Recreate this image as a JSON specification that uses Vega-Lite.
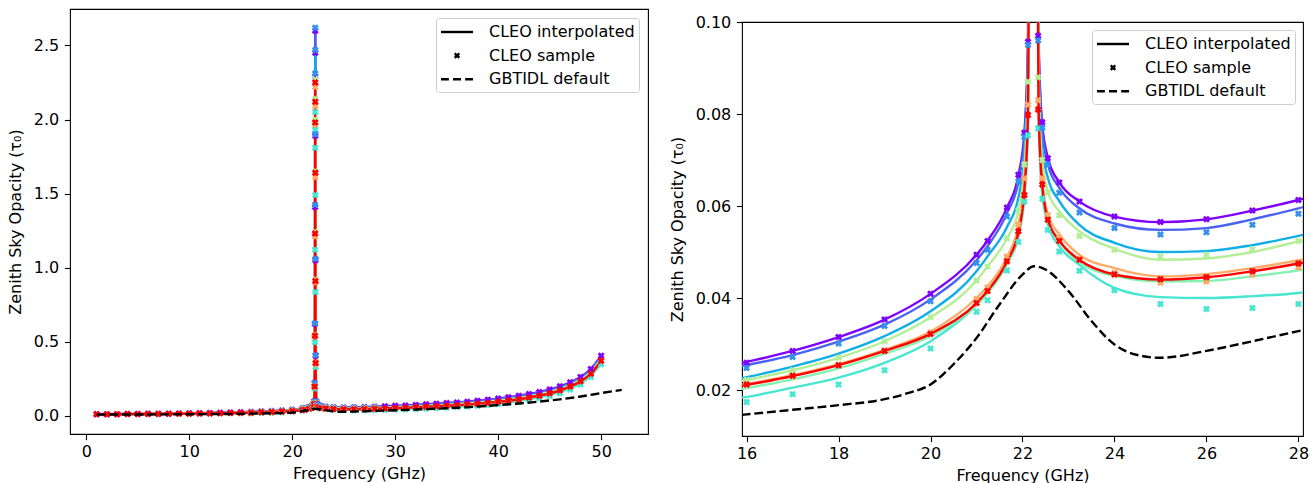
{
"$schema": "https://vega.github.io/schema/vega-lite/v6.json",
"background": "white",
"padding": {"left": 6, "top": 8, "right": 8, "bottom": 0},
"spacing": 19,
"datasets": {
"lines": [
{"f":1,"p":0.0102,"b":0.0102,"c":0.0102,"t":0.0102,"m":0.0102,"g":0.0102,"o":0.0102,"r":0.0102},
{"f":2,"p":0.0106,"b":0.0106,"c":0.0105,"t":0.0105,"m":0.0105,"g":0.0105,"o":0.0105,"r":0.0105},
{"f":4,"p":0.0116,"b":0.0116,"c":0.0114,"t":0.0111,"m":0.0112,"g":0.0114,"o":0.0113,"r":0.0113},
{"f":6,"p":0.0129,"b":0.0128,"c":0.0124,"t":0.0118,"m":0.0121,"g":0.0124,"o":0.0122,"r":0.0122},
{"f":8,"p":0.0144,"b":0.0142,"c":0.0136,"t":0.0125,"m":0.013,"g":0.0134,"o":0.0132,"r":0.0132},
{"f":10,"p":0.0163,"b":0.016,"c":0.015,"t":0.0133,"m":0.0141,"g":0.0148,"o":0.0144,"r":0.0143},
{"f":12,"p":0.0187,"b":0.0183,"c":0.0168,"t":0.0144,"m":0.0155,"g":0.0165,"o":0.016,"r":0.0159},
{"f":14,"p":0.0219,"b":0.0214,"c":0.0194,"t":0.0161,"m":0.0175,"g":0.0189,"o":0.0182,"r":0.0181},
{"f":15,"p":0.0239,"b":0.0233,"c":0.021,"t":0.0172,"m":0.0189,"g":0.0205,"o":0.0197,"r":0.0195},
{"f":16,"p":0.0261,"b":0.0254,"c":0.0228,"t":0.0185,"m":0.0204,"g":0.0222,"o":0.0213,"r":0.0211},
{"f":17,"p":0.0285,"b":0.0276,"c":0.0251,"t":0.0205,"m":0.0223,"g":0.0243,"o":0.0232,"r":0.023},
{"f":18,"p":0.0315,"b":0.0305,"c":0.0279,"t":0.0227,"m":0.0247,"g":0.027,"o":0.0256,"r":0.0254},
{"f":19,"p":0.0353,"b":0.0342,"c":0.0317,"t":0.0259,"m":0.0279,"g":0.0306,"o":0.0287,"r":0.0285},
{"f":20,"p":0.0409,"b":0.0397,"c":0.0371,"t":0.0306,"m":0.0317,"g":0.0358,"o":0.0327,"r":0.0322},
{"f":21,"p":0.0494,"b":0.0482,"c":0.0458,"t":0.0385,"m":0.0385,"g":0.0438,"o":0.04,"r":0.0389},
{"f":21.235,"p":0.0524,"b":0.0512,"c":0.049,"t":0.0412,"m":0.041,"g":0.0468,"o":0.0425,"r":0.0415},
{"f":21.665,"p":0.0597,"b":0.0585,"c":0.0555,"t":0.0475,"m":0.0475,"g":0.053,"o":0.049,"r":0.048},
{"f":21.915,"p":0.0668,"b":0.0655,"c":0.062,"t":0.0535,"m":0.054,"g":0.059,"o":0.056,"r":0.0545},
{"f":22.045,"p":0.0765,"b":0.0752,"c":0.072,"t":0.0625,"m":0.0635,"g":0.069,"o":0.066,"r":0.064},
{"f":22.12,"p":0.096,"b":0.0945,"c":0.091,"t":0.078,"m":0.079,"g":0.087,"o":0.082,"r":0.08},
{"f":22.165,"p":0.178,"b":0.179,"c":0.17,"t":0.145,"m":0.148,"g":0.16,"o":0.157,"r":0.155},
{"f":22.195,"p":0.405,"b":0.408,"c":0.384,"t":0.325,"m":0.33,"g":0.36,"o":0.35,"r":0.35},
{"f":22.215,"p":1.05,"b":1.06,"c":0.993,"t":0.835,"m":0.85,"g":0.92,"o":0.9,"r":0.91},
{"f":22.225,"p":1.89,"b":1.9,"c":1.78,"t":1.49,"m":1.53,"g":1.65,"o":1.61,"r":1.63},
{"f":22.235,"p":2.6,"b":2.62,"c":2.45,"t":2.05,"m":2.1,"g":2.27,"o":2.22,"r":2.25},
{"f":22.245,"p":1.89,"b":1.9,"c":1.78,"t":1.49,"m":1.53,"g":1.65,"o":1.61,"r":1.63},
{"f":22.255,"p":1.05,"b":1.06,"c":0.993,"t":0.835,"m":0.85,"g":0.92,"o":0.9,"r":0.91},
{"f":22.275,"p":0.405,"b":0.408,"c":0.384,"t":0.325,"m":0.33,"g":0.36,"o":0.35,"r":0.35},
{"f":22.305,"p":0.18,"b":0.18,"c":0.171,"t":0.146,"m":0.149,"g":0.161,"o":0.158,"r":0.156},
{"f":22.35,"p":0.096,"b":0.095,"c":0.092,"t":0.079,"m":0.08,"g":0.088,"o":0.083,"r":0.081},
{"f":22.425,"p":0.0782,"b":0.077,"c":0.073,"t":0.063,"m":0.064,"g":0.07,"o":0.066,"r":0.065},
{"f":22.555,"p":0.0704,"b":0.069,"c":0.066,"t":0.056,"m":0.057,"g":0.063,"o":0.058,"r":0.057},
{"f":22.805,"p":0.0651,"b":0.0639,"c":0.061,"t":0.0512,"m":0.0523,"g":0.0588,"o":0.0538,"r":0.0524},
{"f":23.235,"p":0.061,"b":0.0595,"c":0.0559,"t":0.0472,"m":0.0478,"g":0.0545,"o":0.0494,"r":0.0483},
{"f":24,"p":0.0577,"b":0.0562,"c":0.052,"t":0.0422,"m":0.0448,"g":0.0507,"o":0.0465,"r":0.0451},
{"f":25,"p":0.0565,"b":0.0548,"c":0.05,"t":0.0402,"m":0.0436,"g":0.0483,"o":0.0447,"r":0.044},
{"f":26,"p":0.0571,"b":0.0552,"c":0.0502,"t":0.04,"m":0.0437,"g":0.0486,"o":0.0452,"r":0.0445},
{"f":27,"p":0.059,"b":0.0571,"c":0.0515,"t":0.0404,"m":0.0447,"g":0.05,"o":0.0465,"r":0.0458},
{"f":28,"p":0.0613,"b":0.0595,"c":0.0535,"t":0.0411,"m":0.046,"g":0.0523,"o":0.0482,"r":0.0475},
{"f":30,"p":0.067,"b":0.0651,"c":0.0586,"t":0.0452,"m":0.0505,"g":0.0573,"o":0.0529,"r":0.0521},
{"f":32,"p":0.073,"b":0.0709,"c":0.0639,"t":0.0494,"m":0.0551,"g":0.0625,"o":0.0577,"r":0.0569},
{"f":34,"p":0.081,"b":0.0787,"c":0.0712,"t":0.0555,"m":0.0617,"g":0.0697,"o":0.0645,"r":0.0636},
{"f":36,"p":0.09,"b":0.0876,"c":0.0794,"t":0.0625,"m":0.0692,"g":0.0778,"o":0.0722,"r":0.0712},
{"f":38,"p":0.101,"b":0.0984,"c":0.0895,"t":0.0713,"m":0.0785,"g":0.0878,"o":0.0817,"r":0.0807},
{"f":40,"p":0.116,"b":0.1132,"c":0.1037,"t":0.0841,"m":0.0918,"g":0.1018,"o":0.0953,"r":0.0942},
{"f":42,"p":0.135,"b":0.1319,"c":0.1217,"t":0.1007,"m":0.109,"g":0.1197,"o":0.1127,"r":0.1115},
{"f":44,"p":0.161,"b":0.1577,"c":0.1467,"t":0.124,"m":0.133,"g":0.1445,"o":0.137,"r":0.1357},
{"f":45,"p":0.178,"b":0.1746,"c":0.1632,"t":0.1396,"m":0.1489,"g":0.1609,"o":0.1531,"r":0.1518},
{"f":46,"p":0.199,"b":0.1954,"c":0.1836,"t":0.159,"m":0.1687,"g":0.1812,"o":0.1731,"r":0.1717},
{"f":47,"p":0.226,"b":0.2223,"c":0.2099,"t":0.1844,"m":0.1945,"g":0.2075,"o":0.199,"r":0.1976},
{"f":48,"p":0.262,"b":0.2581,"c":0.2452,"t":0.2186,"m":0.2291,"g":0.2426,"o":0.2338,"r":0.2323},
{"f":49,"p":0.315,"b":0.3109,"c":0.2974,"t":0.2693,"m":0.2804,"g":0.2947,"o":0.2854,"r":0.2838},
{"f":50,"p":0.405,"b":0.4007,"c":0.3863,"t":0.3565,"m":0.3683,"g":0.3834,"o":0.3736,"r":0.3719}
],
"samp": [
{"f":1,"p":0.0102,"r":0.0102},
{"f":2,"p":0.0106,"r":0.0105},
{"f":3,"p":0.0111,"r":0.0109},
{"f":4,"p":0.0116,"r":0.0113},
{"f":5,"p":0.0122,"r":0.0117},
{"f":6,"p":0.0129,"r":0.0122},
{"f":7,"p":0.0136,"r":0.0127},
{"f":8,"p":0.0144,"r":0.0132},
{"f":9,"p":0.0153,"r":0.0137},
{"f":10,"p":0.0163,"r":0.0143},
{"f":11,"p":0.0174,"r":0.015},
{"f":12,"p":0.0187,"r":0.0159},
{"f":13,"p":0.0202,"r":0.0169},
{"f":14,"p":0.0219,"r":0.0181},
{"f":15,"p":0.0239,"r":0.0195},
{"f":16,"p":0.0259,"bs":0.0248,"t":0.0174,"g":0.0222,"o":0.0212,"r":0.0212},
{"f":17,"p":0.0285,"bs":0.0272,"t":0.0191,"g":0.0243,"o":0.0231,"r":0.0231},
{"f":18,"p":0.0315,"bs":0.0301,"t":0.0212,"g":0.027,"o":0.0255,"r":0.0254},
{"f":19,"p":0.0353,"bs":0.0339,"t":0.0243,"g":0.0306,"o":0.0286,"r":0.0285},
{"f":20,"p":0.0409,"bs":0.0393,"t":0.029,"g":0.0358,"o":0.0325,"r":0.0322},
{"f":21,"p":0.0494,"bs":0.0476,"t":0.037,"g":0.0438,"o":0.0398,"r":0.0389},
{"f":21.24,"p":0.0524,"bs":0.0505,"t":0.0395,"g":0.0468,"o":0.0423,"r":0.0415},
{"f":21.66,"p":0.0597,"bs":0.0577,"t":0.046,"g":0.053,"o":0.049,"r":0.048},
{"f":21.91,"p":0.0668,"bs":0.0653,"t":0.0522,"g":0.059,"o":0.056,"r":0.0545},
{"f":22.04,"p":0.0759,"bs":0.075,"t":0.061,"g":0.069,"o":0.066,"r":0.0624},
{"f":22.12,"p":0.0957,"bs":0.095,"t":0.0754,"g":0.087,"o":0.082,"r":0.0798},
{"f":22.175,"p":0.221,"bs":0.222,"t":0.184,"g":0.199,"o":0.196,"r":0.198},
{"f":22.205,"p":0.62,"bs":0.624,"t":0.497,"g":0.546,"o":0.535,"r":0.54},
{"f":22.22,"p":1.41,"bs":1.425,"t":1.12,"g":1.24,"o":1.21,"r":1.23},
{"f":22.229,"p":2.29,"bs":2.31,"t":1.81,"g":2.0,"o":1.96,"r":1.98},
{"f":22.235,"p":2.6,"bs":2.62,"t":2.05,"g":2.27,"o":2.22,"r":2.25},
{"f":22.239,"p":2.45,"bs":2.47,"t":1.93,"g":2.14,"o":2.09,"r":2.12},
{"f":22.245,"p":1.89,"bs":1.9,"t":1.49,"g":1.65,"o":1.61,"r":1.64},
{"f":22.255,"p":1.05,"bs":1.06,"t":0.836,"g":0.92,"o":0.9,"r":0.91},
{"f":22.275,"p":0.405,"bs":0.408,"t":0.329,"g":0.36,"o":0.35,"r":0.356},
{"f":22.34,"p":0.097,"bs":0.096,"t":0.0769,"g":0.088,"o":0.083,"r":0.081},
{"f":22.43,"p":0.0782,"bs":0.077,"t":0.0616,"g":0.07,"o":0.066,"r":0.0647},
{"f":22.55,"p":0.0704,"bs":0.069,"t":0.0548,"g":0.063,"o":0.058,"r":0.057},
{"f":22.8,"p":0.0651,"bs":0.0629,"t":0.0501,"g":0.058,"o":0.053,"r":0.0524},
{"f":23.24,"p":0.061,"bs":0.0586,"t":0.0459,"g":0.0535,"o":0.0485,"r":0.0483},
{"f":24,"p":0.0577,"bs":0.0552,"t":0.0417,"g":0.0505,"o":0.0455,"r":0.0451},
{"f":25,"p":0.0565,"bs":0.0538,"t":0.0387,"g":0.049,"o":0.0433,"r":0.0441},
{"f":26,"p":0.0571,"bs":0.0543,"t":0.0376,"g":0.0494,"o":0.0436,"r":0.0445},
{"f":27,"p":0.059,"bs":0.0559,"t":0.0378,"g":0.0506,"o":0.0451,"r":0.0458},
{"f":28,"p":0.0613,"bs":0.0583,"t":0.0387,"g":0.0524,"o":0.0467,"r":0.0475},
{"f":29,"p":0.064,"t":0.0405,"r":0.0497},
{"f":30,"p":0.067,"t":0.0425,"r":0.0521},
{"f":31,"p":0.07,"t":0.0445,"r":0.0545},
{"f":32,"p":0.073,"t":0.0465,"r":0.0569},
{"f":33,"p":0.077,"t":0.0493,"r":0.0602},
{"f":34,"p":0.081,"t":0.0522,"r":0.0636},
{"f":35,"p":0.0855,"t":0.0555,"r":0.0674},
{"f":36,"p":0.09,"t":0.0588,"r":0.0712},
{"f":37,"p":0.095,"t":0.063,"r":0.076},
{"f":38,"p":0.101,"t":0.0672,"r":0.0807},
{"f":39,"p":0.108,"t":0.073,"r":0.087},
{"f":40,"p":0.116,"t":0.0795,"r":0.0942},
{"f":41,"p":0.125,"t":0.0872,"r":0.1025},
{"f":42,"p":0.135,"t":0.0955,"r":0.1115},
{"f":43,"p":0.147,"t":0.1065,"r":0.123},
{"f":44,"p":0.161,"t":0.118,"r":0.1357},
{"f":45,"p":0.178,"t":0.133,"r":0.1518},
{"f":46,"p":0.199,"t":0.152,"r":0.1717},
{"f":47,"p":0.226,"t":0.177,"r":0.1976},
{"f":48,"p":0.262,"t":0.211,"r":0.2323},
{"f":49,"p":0.315,"t":0.261,"r":0.2838},
{"f":50,"p":0.405,"t":0.348,"r":0.3719}
],
"gbt": [
{"f":1,"v":0.008},{"f":4,"v":0.0085},{"f":8,"v":0.0095},{"f":12,"v":0.011},{"f":14,"v":0.0125},
{"f":16,"v":0.0147},{"f":17,"v":0.0157},{"f":18,"v":0.0167},{"f":19,"v":0.018},{"f":19.5,"v":0.0193},
{"f":20,"v":0.0212},{"f":20.5,"v":0.0256},{"f":21,"v":0.0313},{"f":21.5,"v":0.0386},{"f":22,"v":0.0451},
{"f":22.25,"v":0.0469},{"f":22.5,"v":0.0462},{"f":23,"v":0.0415},{"f":23.5,"v":0.035},{"f":24,"v":0.0299},
{"f":24.5,"v":0.0276},{"f":25,"v":0.027},{"f":26,"v":0.0285},{"f":27,"v":0.0306},{"f":28,"v":0.0328},
{"f":30,"v":0.037},{"f":32,"v":0.042},{"f":35,"v":0.051},{"f":38,"v":0.062},{"f":40,"v":0.072},
{"f":42,"v":0.083},{"f":44,"v":0.096},{"f":46,"v":0.111},{"f":48,"v":0.13},{"f":50,"v":0.153},{"f":52,"v":0.175}
],
"leg": [{"k":"CLEO interpolated"},{"k":"CLEO sample"},{"k":"GBTIDL default"}]
},
"resolve": {"scale": {"shape": "independent", "color": "independent"}, "legend": {"shape": "independent"}},
"hconcat": [
{
"width": 578, "height": 425,
"layer": [
{"data": {"name": "lines"},
 "transform": [{"fold": ["p","b","c","t","m","g","o","r"], "as": ["s","v"]}, {"filter": "isValid(datum.v)"}],
 "mark": {"type": "line", "strokeWidth": 2.4, "clip": true, "interpolate": "monotone"},
 "encoding": {
  "x": {"field": "f", "type": "quantitative", "title": "Frequency (GHz)", "scale": {"domain": [-1.58, 54.55], "nice": false, "zero": false}, "axis": {"values": [0,10,20,30,40,50], "format": "d"}},
  "y": {"field": "v", "type": "quantitative", "title": "Zenith Sky Opacity (τ₀)", "scale": {"domain": [-0.123, 2.746], "nice": false, "zero": false}, "axis": {"values": [0,0.5,1,1.5,2,2.5], "format": ".1f"}},
  "color": {"field": "s", "type": "nominal", "legend": null, "scale": {"domain": ["p","b","c","t","m","g","o","r","bs"], "range": ["#8000ff","#4a62f2","#10aee8","#46e6d0","#86f0b0","#b4ee96","#ffaa66","#ff0000","#3490ec"]}}
 }},
{"data": {"name": "samp"},
 "transform": [{"fold": ["p","bs","t","g","o","r"], "as": ["s","v"]}, {"filter": "isValid(datum.v)"}],
 "mark": {"type": "point", "shape": "cross", "angle": 45, "filled": true, "size": 50, "opacity": 1, "clip": true},
 "encoding": {
  "x": {"field": "f", "type": "quantitative", "title": "Frequency (GHz)"},
  "y": {"field": "v", "type": "quantitative", "title": "Zenith Sky Opacity (τ₀)"},
  "color": {"field": "s", "type": "nominal", "legend": null}
 }},
{"data": {"name": "gbt"},
 "mark": {"type": "line", "color": "black", "strokeWidth": 2.4, "strokeDash": [8.9, 3.8], "clip": true, "interpolate": "monotone"},
 "encoding": {
  "x": {"field": "f", "type": "quantitative", "title": "Frequency (GHz)"},
  "y": {"field": "v", "type": "quantitative", "title": "Zenith Sky Opacity (τ₀)"}
 }},
{"data": {"name": "leg"},
 "transform": [{"filter": "false"}],
 "mark": {"type": "point", "filled": false, "color": "black", "opacity": 1, "strokeWidth": 2.4},
 "encoding": {
  "shape": {"field": "k", "type": "nominal", "scale": {"domain": ["CLEO interpolated","CLEO sample","GBTIDL default"], "range": ["M-1.88,0H1.88", "M-0.27,-0.27L0.27,0.27M-0.27,0.27L0.27,-0.27", "M-1.88,0H-0.96M-0.47,0H0.47M0.96,0H1.88"]},
   "legend": {"title": null, "orient": "top-right", "offset": 9, "padding": 4, "strokeColor": "#cccccc", "fillColor": "white", "cornerRadius": 3, "symbolSize": 289, "symbolOffset": 7, "labelOffset": 22, "labelFontSize": 16, "labelFont": "DejaVu Sans", "labelColor": "black", "rowPadding": 5.6, "symbolStrokeColor": "black", "symbolStrokeWidth": 2.4, "symbolOpacity": 1}}
 }}
]
},
{
"spacing": 0,
"resolve": {"scale": {"shape": "independent", "color": "independent"}, "legend": {"shape": "independent"}},
"vconcat": [
{"width": 561, "height": 4, "data": {"values": []}, "mark": {"type": "point", "opacity": 0}, "view": {"stroke": null}},
{
"width": 561, "height": 414,
"layer": [
{"data": {"name": "lines"},
 "transform": [{"fold": ["p","b","c","t","m","g","o","r"], "as": ["s","v"]}, {"filter": "isValid(datum.v)"}],
 "mark": {"type": "line", "strokeWidth": 2.4, "clip": true, "interpolate": "monotone"},
 "encoding": {
  "x": {"field": "f", "type": "quantitative", "title": "Frequency (GHz)", "scale": {"domain": [15.9, 28.1], "nice": false, "zero": false}, "axis": {"values": [16,18,20,22,24,26,28], "format": "d"}},
  "y": {"field": "v", "type": "quantitative", "title": "Zenith Sky Opacity (τ₀)", "scale": {"domain": [0.01, 0.1], "nice": false, "zero": false}, "axis": {"values": [0.02,0.04,0.06,0.08,0.1], "format": ".2f"}},
  "color": {"field": "s", "type": "nominal", "legend": null, "scale": {"domain": ["p","b","c","t","m","g","o","r","bs"], "range": ["#8000ff","#4a62f2","#10aee8","#46e6d0","#86f0b0","#b4ee96","#ffaa66","#ff0000","#3490ec"]}}
 }},
{"data": {"name": "samp"},
 "transform": [{"fold": ["p","bs","t","g","o","r"], "as": ["s","v"]}, {"filter": "isValid(datum.v)"}],
 "mark": {"type": "point", "shape": "cross", "angle": 45, "filled": true, "size": 50, "opacity": 1, "clip": true},
 "encoding": {
  "x": {"field": "f", "type": "quantitative", "title": "Frequency (GHz)"},
  "y": {"field": "v", "type": "quantitative", "title": "Zenith Sky Opacity (τ₀)"},
  "color": {"field": "s", "type": "nominal", "legend": null}
 }},
{"data": {"name": "gbt"},
 "mark": {"type": "line", "color": "black", "strokeWidth": 2.4, "strokeDash": [8.9, 3.8], "clip": true, "interpolate": "monotone"},
 "encoding": {
  "x": {"field": "f", "type": "quantitative", "title": "Frequency (GHz)"},
  "y": {"field": "v", "type": "quantitative", "title": "Zenith Sky Opacity (τ₀)"}
 }},
{"data": {"name": "leg"},
 "transform": [{"filter": "false"}],
 "mark": {"type": "point", "filled": false, "color": "black", "opacity": 1, "strokeWidth": 2.4},
 "encoding": {
  "shape": {"field": "k", "type": "nominal", "scale": {"domain": ["CLEO interpolated","CLEO sample","GBTIDL default"], "range": ["M-1.88,0H1.88", "M-0.27,-0.27L0.27,0.27M-0.27,0.27L0.27,-0.27", "M-1.88,0H-0.96M-0.47,0H0.47M0.96,0H1.88"]},
   "legend": {"title": null, "orient": "top-right", "offset": 8, "padding": 4, "strokeColor": "#cccccc", "fillColor": "white", "cornerRadius": 3, "symbolSize": 289, "symbolOffset": 7, "labelOffset": 22, "labelFontSize": 16, "labelFont": "DejaVu Sans", "labelColor": "black", "rowPadding": 5.6, "symbolStrokeColor": "black", "symbolStrokeWidth": 2.4, "symbolOpacity": 1}}
 }}
]
}
]
}
],
"config": {
 "font": "DejaVu Sans",
 "view": {"stroke": "black", "strokeWidth": 1.1},
 "axis": {"domain": false, "grid": false, "ticks": true, "tickColor": "black", "tickSize": 5.6, "tickWidth": 1.1, "labelFontSize": 16, "labelColor": "black", "labelFont": "DejaVu Sans", "titleFontSize": 16, "titleFontWeight": "normal", "titleColor": "black", "titleFont": "DejaVu Sans", "labelPadding": 4, "titlePadding": 6},
 "axisY": {"labelPadding": 5.6, "titlePadding": 10}
}
}
